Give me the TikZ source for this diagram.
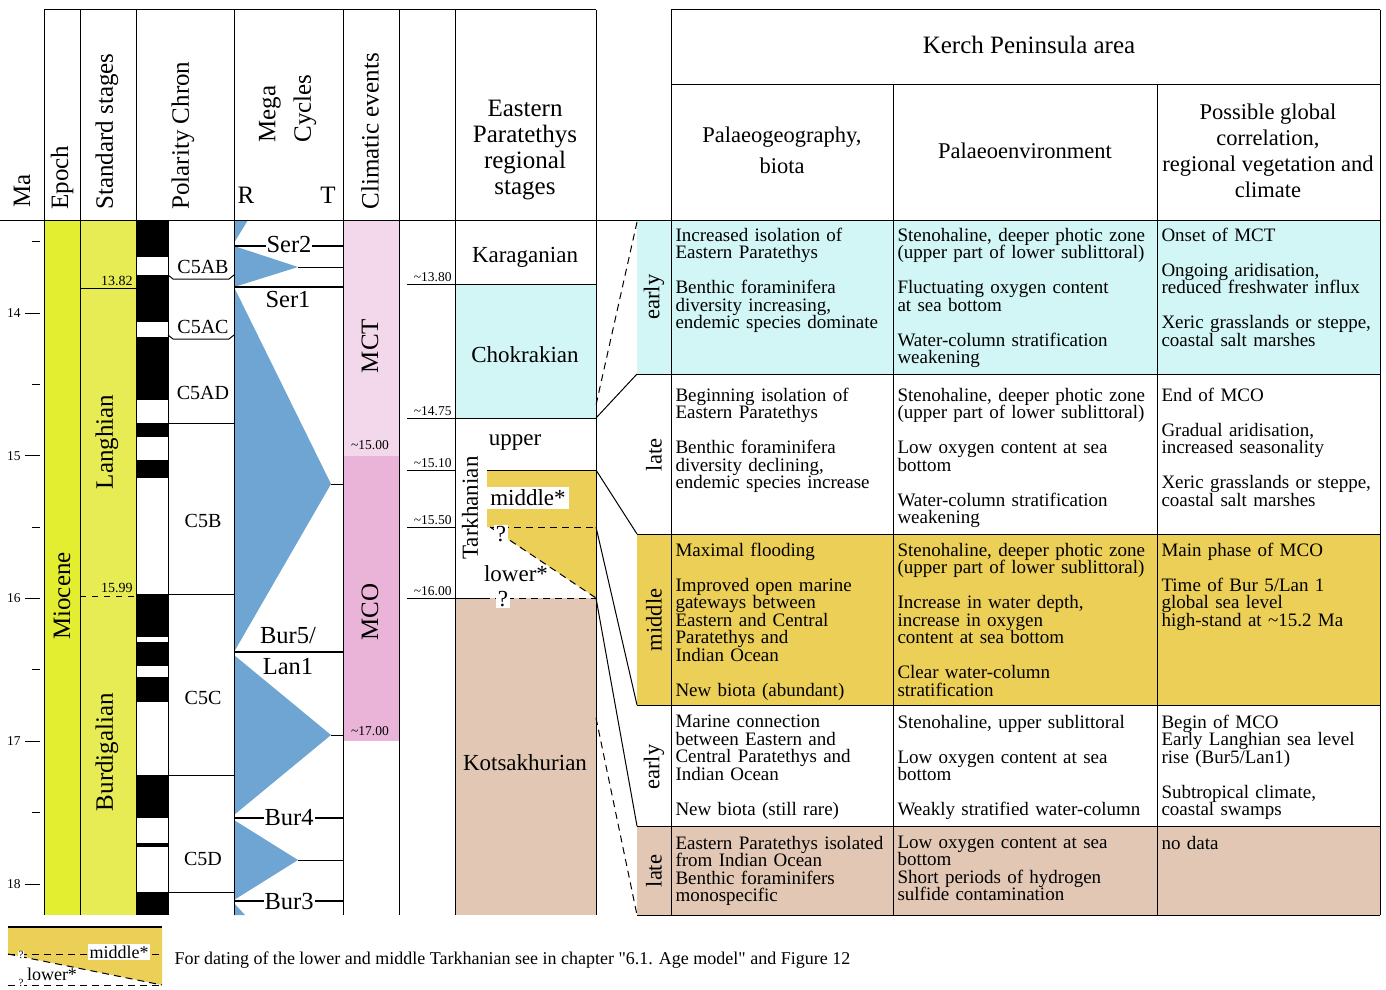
\documentclass[tikz,border=0pt]{standalone}
\usepackage{fontspec}
\setmainfont{Liberation Serif}
\usepackage{tikz}
\usetikzlibrary{positioning}

\definecolor{epochyel}{RGB}{228,238,48}
\definecolor{stageyel}{RGB}{231,236,84}
\definecolor{cycblue}{RGB}{111,165,210}
\definecolor{mctpink}{RGB}{243,216,236}
\definecolor{mcopink}{RGB}{234,180,216}
\definecolor{chokcyan}{RGB}{210,245,245}
\definecolor{tarkyel}{RGB}{236,207,86}
\definecolor{kotstan}{RGB}{226,200,180}

\newcommand\kphead{\fontsize{25}{26}\selectfont}
\newcommand\kpcol{\fontsize{22.5}{26}\selectfont}
\newcommand\kpcell{\fontsize{19}{17.5}\selectfont}
\newcommand\kpstage{\fontsize{23}{24}\selectfont}
\newcommand\kpcyc{\fontsize{24.5}{26}\selectfont}
\newcommand\kpchron{\fontsize{20}{22}\selectfont}
\newcommand\kpage{\fontsize{13.5}{14}\selectfont}
\newcommand\kpleg{\fontsize{18}{19}\selectfont}

\begin{document}
\begin{tikzpicture}[x=1pt, y=-1pt, line width=1pt,
    vhead/.style={font=\kphead, rotate=90, anchor=west, inner sep=0pt},
    vlab/.style={rotate=90, inner sep=0pt},
    cell/.style={font=\kpcell, anchor=north west, align=left, inner sep=0pt, text width=262pt},
    agelab/.style={font=\kpage, anchor=base east, inner sep=0pt},
    cyclab/.style={font=\kpcyc, inner sep=1pt},
    chronlab/.style={font=\kpchron, inner sep=0pt},
    stagelab/.style={font=\kpstage, inner sep=0pt},
    qbox/.style={fill=white, inner sep=1.5pt, font=\kpstage},
    qdash/.style={dash pattern=on 7pt off 5pt},
    bound/.style={line width=2pt}]
    \useasboundingbox (0,0) rectangle (1386,990);
    \def\Top{220}
    \def\Bot{915}
    % =========================
    % colour fills
    \fill[epochyel] (44,\Top) rectangle (80,\Bot);
    \fill[stageyel] (80,\Top) rectangle (136,\Bot);
    \fill[mctpink] (343,\Top) rectangle (399,456);
    \fill[mcopink] (343,456) rectangle (399,741);
    \fill[chokcyan] (455,284) rectangle (596,418);
    \fill[kotstan] (455,598) rectangle (596,\Bot);
    \fill[tarkyel] (487,470) -- (596,470) -- (596,598) -- (490,527) -- (487,527) -- cycle;
    \fill[chokcyan] (637,\Top) rectangle (1380,374);
    \fill[tarkyel] (637,534) rectangle (1380,705);
    \fill[kotstan] (637,826) rectangle (1380,\Bot);

    % polarity chrons
    \foreach \a/\b in {220/257, 275/322, 337/400, 423/437, 460/478, 594/637,
                       642/666, 677/702, 775/818, 843/847, 892/915}
        \fill[black] (136,\a) rectangle (168,\b);

    % mega cycles
    \fill[cycblue] (234,220) -- (248,220) -- (234,243) -- cycle;
    \fill[cycblue] (234,246) -- (298,267) -- (234,287) -- cycle;
    \fill[cycblue] (234,287) -- (331,484) -- (234,652) -- cycle;
    \fill[cycblue] (234,655) -- (331,735) -- (234,815) -- cycle;
    \fill[cycblue] (234,820) -- (298,860) -- (234,900) -- cycle;
    \fill[cycblue] (234,903) -- (245,915) -- (234,915) -- cycle;

    % ===============================
    % frame of the left part
    \draw (44,10) -- (596,10);
    \draw (0,\Top) -- (1380,\Top);
    \foreach \x in {44,80,136,234,343,399,455,596}
        \draw (\x,10) -- (\x,\Bot);
    \draw (168,\Top) -- (168,\Bot);

    % Ma axis
    \foreach \m in {14,...,18}
        \draw (25,{313+142.75*(\m-14)}) -- (40,{313+142.75*(\m-14)})
            node[font=\kpage, anchor=east, inner sep=0pt] (ma\m) at (21,{313+142.75*(\m-14)}) {\m};
    \foreach \m in {13.5,14.5,...,17.5}
        \draw (32,{313+142.75*(\m-14)}) -- (40,{313+142.75*(\m-14)});

    % stages
    \draw (80,288) -- (136,288);
    \draw[dash pattern=on 6pt off 6pt] (80,596) -- (136,596);
    \node[agelab, font=\fontsize{14}{15}\selectfont] (s1382) at (133,285) {13.82};
    \node[agelab, font=\fontsize{14}{15}\selectfont] (s1599) at (133,592) {15.99};
    \node[vlab, font=\kphead] (miocene) at (62,596) {Miocene};
    \node[vlab, font=\kphead] (langh) at (107,442) {Langhian};
    \node[vlab, font=\kphead] (burdi) at (107,752) {Burdigalian};

    % chron names
    \draw (168,275) -- (173,279) -- (229,279) -- (234,275);
    \draw (168,335) -- (173,339) -- (229,339) -- (234,335);
    \foreach \y in {423,594,775,892}
        \draw (168,\y) -- (234,\y);
    \foreach \n/\y in {C5AB/267, C5AC/327, C5AD/393, C5B/521, C5C/698, C5D/859}
        \node[chronlab] (\n) at (203,\y) {\n};

    % sequence boundaries
    \draw[line width=1.4pt] (234,246) -- (343,246);
    \draw (298,267) -- (343,267);
    \draw[bound] (234,287) -- (343,287);
    \draw (331,484) -- (343,484);
    \draw[bound] (234,652) -- (343,652);
    \draw (331,735) -- (343,735);
    \draw[line width=1.4pt] (234,818) -- (343,818);
    \draw (298,860) -- (343,860);
    \draw[line width=1.4pt] (234,901) -- (343,901);
    \node[cyclab, fill=white] (ser2) at (289,245) {Ser2};
    \node[cyclab] (ser1) at (288,300) {Ser1};
    \node[cyclab] (bur5) at (288,636) {Bur5/};
    \node[cyclab, below=31pt of bur5.base, anchor=base] (lan1) {Lan1};
    \node[cyclab, fill=white] (bur4) at (289,818) {Bur4};
    \node[cyclab, fill=white] (bur3) at (289,901) {Bur3};

    % climatic events
    \node[vlab, font=\kphead] (mct) at (370,346) {MCT};
    \node[vlab, font=\kphead] (mco) at (370,612) {MCO};
    \node[font=\kpage, inner sep=0pt] (c15) at (370,445) {\textasciitilde15.00};
    \node[font=\kpage, inner sep=0pt] (c17) at (370,731) {\textasciitilde17.00};

    % ages of the regional stages
    \foreach \y/\t in {284/13.80, 418/14.75, 470/15.10, 527/15.50, 598/16.00}{
        \draw (407,\y) -- (455,\y);
        \node[agelab] (a\t) at (452,\y-3) {\textasciitilde\t};
    }
    \draw (455,284) -- (596,284);
    \draw (455,418) -- (596,418);
    \draw (487,470) -- (596,470);
    \draw[qdash] (490,527) -- (596,527);
    \draw[qdash] (490,527) -- (596,598);
    \draw (455,598) -- (483,598);
    \draw[qdash] (483,598) -- (596,598);
    \node[qbox] (q1) at (501,534) {?};
    \node[qbox] (q2) at (503,599) {?};

    % regional stages
    \node[stagelab] (karag) at (525,257) {Karaganian};
    \node[stagelab] (chokr) at (525,355) {Chokrakian};
    \node[stagelab] (upper) at (515,443) {upper};
    \node[stagelab, fill=white, inner sep=3pt] (middle) at (528,498) {middle*};
    \node[stagelab] (lower) at (516,574) {lower*};
    \node[vlab, font=\kpstage] (tarkh) at (470,508) {Tarkhanian};
    \node[stagelab] (kotsa) at (525,763) {Kotsakhurian};

    % header of the left part
    \node[vhead] (hma) at (22,208) {Ma};
    \node[vhead] (hepoch) at (62,210) {Epoch};
    \node[vhead] (hstage) at (107,210) {Standard stages};
    \node[vhead] (hchron) at (183,210) {Polarity Chron};
    \node[vhead] (hmega) at (270,143) {Mega};
    \node[vhead] (hcycle) at (305,143) {Cycles};
    \node[font=\kphead, inner sep=0pt] (hr) at (246,195) {R};
    \node[font=\kphead, inner sep=0pt] (ht) at (328,195) {T};
    \node[vhead] (hclim) at (370,210) {Climatic events};
    \node[font=\kphead, align=center, inner sep=0pt] (hep) at (525,150)
        {Eastern\\Paratethys\\regional\\stages};

    % ===============================
    % Kerch Peninsula table
    \draw (671,10) -- (1380,10);
    \draw (671,10) -- (671,\Bot);
    \draw (1380,10) -- (1380,\Bot);
    \draw (671,84) -- (1380,84);
    \draw (893,84) -- (893,\Bot);
    \draw (1157,84) -- (1157,\Bot);
    \foreach \y in {374,534,705,826,915}
        \draw (637,\y) -- (1380,\y);
    \node[font=\kphead, inner sep=0pt] (kerch) at (1029,45) {Kerch Peninsula area};
    \node[font=\kpcol, align=center, inner sep=0pt] (hgeo) at (782,150) {Palaeogeography,\\[5pt]biota};
    \node[font=\kpcol, inner sep=0pt] (henv) at (1025,151) {Palaeoenvironment};
    \node[font=\kpcol, align=center, inner sep=0pt] (hglob) at (1268,151)
        {Possible global\\correlation,\\regional vegetation and\\climate};

    % links to the regional stages
    \draw[qdash] (637,222) -- (596,405);
    \draw (596,418) -- (637,374);
    \draw (596,470) -- (637,534);
    \draw (596,527) -- (637,705);
    \draw (596,598) -- (637,826);
    \draw[qdash] (596,718) -- (637,915);

    \foreach \t/\y [count=\i] in {early/297, late/455, middle/620, early/767, late/871}
        \node[vlab, font=\kpcol] (sub\i) at (654,\y) {\t};

    % row 1
    \node[cell] (r1a) at (675,227.5) {Increased isolation of\\Eastern Paratethys\\[17.5pt]
        Benthic foraminifera\\diversity increasing,\\endemic species dominate};
    \node[cell] (r1b) at (897,227.5) {Stenohaline, deeper photic zone\\(upper part of lower sublittoral)\\[17.5pt]
        Fluctuating oxygen content\\at sea bottom\\[17.5pt]Water-column stratification\\weakening};
    \node[cell] (r1c) at (1161,227.5) {Onset of MCT\\[17.5pt]Ongoing aridisation,\\reduced freshwater influx\\[17.5pt]
        Xeric grasslands or steppe,\\coastal salt marshes};
    % row 2
    \node[cell] (r2a) at (675,387.5) {Beginning isolation of\\Eastern Paratethys\\[17.5pt]
        Benthic foraminifera\\diversity declining,\\endemic species increase};
    \node[cell] (r2b) at (897,387.5) {Stenohaline, deeper photic zone\\(upper part of lower sublittoral)\\[17.5pt]
        Low oxygen content at sea\\bottom\\[17.5pt]Water-column stratification\\weakening};
    \node[cell] (r2c) at (1161,387.5) {End of MCO\\[17.5pt]Gradual aridisation,\\increased seasonality\\[17.5pt]
        Xeric grasslands or steppe,\\coastal salt marshes};
    % row 3
    \node[cell] (r3a) at (675,542.5) {Maximal flooding\\[17.5pt]Improved open marine\\gateways between\\
        Eastern and Central\\Paratethys and\\Indian Ocean\\[17.5pt]New biota (abundant)};
    \node[cell] (r3b) at (897,542.5) {Stenohaline, deeper photic zone\\(upper part of lower sublittoral)\\[17.5pt]
        Increase in water depth,\\increase in oxygen\\content at sea bottom\\[17.5pt]Clear water-column\\stratification};
    \node[cell] (r3c) at (1161,542.5) {Main phase of MCO\\[17.5pt]Time of Bur 5/Lan 1\\global sea level\\
        high-stand at \textasciitilde15.2 Ma};
    % row 4
    \node[cell] (r4a) at (675,714.5) {Marine connection\\between Eastern and\\Central Paratethys and\\
        Indian Ocean\\[17.5pt]New biota (still rare)};
    \node[cell] (r4b) at (897,714.5) {Stenohaline, upper sublittoral\\[17.5pt]Low oxygen content at sea\\bottom\\[17.5pt]
        Weakly stratified water-column};
    \node[cell] (r4c) at (1161,714.5) {Begin of MCO\\Early Langhian sea level\\rise (Bur5/Lan1)\\[17.5pt]
        Subtropical climate,\\coastal swamps};
    % row 5
    \node[cell] (r5a) at (675,835.5) {Eastern Paratethys isolated\\from Indian Ocean\\Benthic foraminifers\\monospecific};
    \node[cell] (r5b) at (897,835.5) {Low oxygen content at sea\\bottom\\Short periods of hydrogen\\sulfide contamination};
    \node[cell] (r5c) at (1161,835.5) {no data};

    % ===============================
    % legend
    \fill[tarkyel] (8,927) -- (162,927) -- (162,985) -- (8,954) -- cycle;
    \draw[line width=1.4pt] (8,927) -- (162,927);
    \draw[qdash] (8,954) -- (162,954);
    \draw[qdash] (8,954) -- (162,985);
    \draw[qdash] (8,985) -- (162,985);
    \node[fill=white, inner sep=0.5pt, font=\fontsize{11}{12}\selectfont] (lq1) at (21,955) {?};
    \node[fill=white, inner sep=0.5pt, font=\fontsize{11}{12}\selectfont] (lq2) at (21,983) {?};
    \node[fill=white, inner sep=1.5pt, font=\kpleg] (lmid) at (119,952) {middle*};
    \node[inner sep=0pt, font=\kpleg] (llow) at (52,974) {lower*};
    \node[anchor=west, inner sep=0pt, font=\kpleg] (legtxt) at (174,960)
        {For dating of the lower and middle Tarkhanian see in chapter \textquotedbl6.1. Age model\textquotedbl{} and Figure 12};
\end{tikzpicture}
\end{document}
